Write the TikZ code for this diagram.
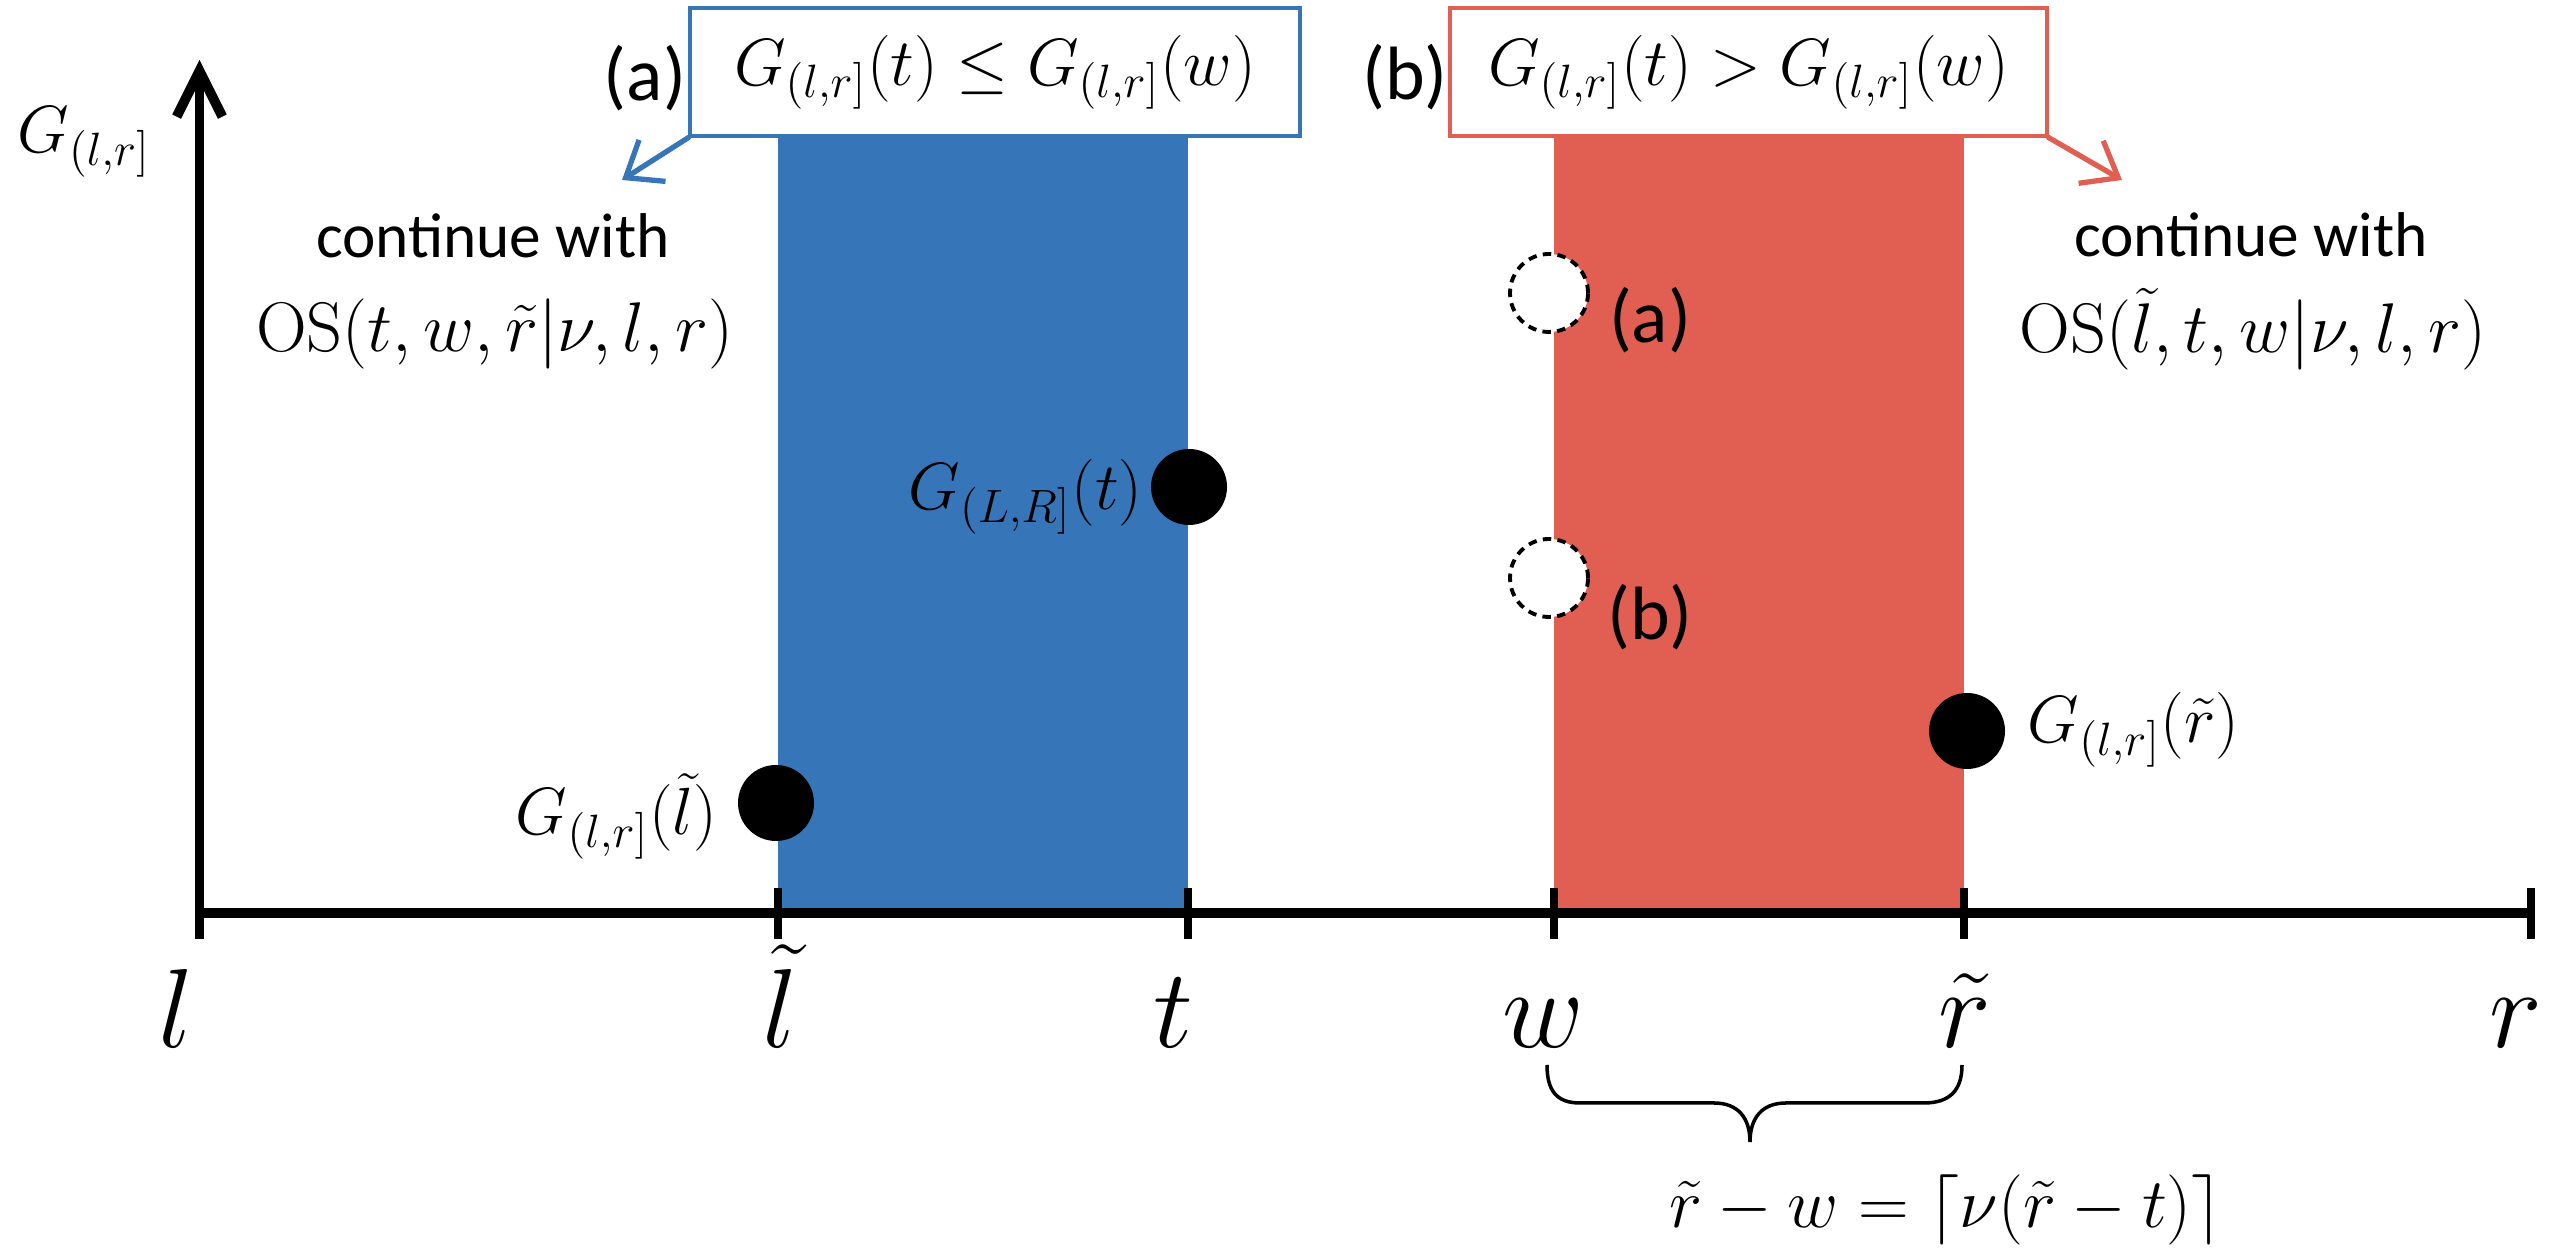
\RequirePackage{fix-cm}
\documentclass[tikz,border=0pt]{standalone}
\usepackage[no-math]{fontspec}
\setmainfont{Carlito}
\usepackage{tikz}
\usetikzlibrary{arrows.meta,positioning}

\definecolor{bleu}{RGB}{54,117,184}
\definecolor{rouge}{RGB}{225,95,82}

\begin{document}
\begin{tikzpicture}[
    axe/.style={line width=2.8pt},
    graduation/.style={line width=2.4pt},
    etiquette/.style={font=\fontsize{32pt}{36pt}\selectfont, anchor=base, inner sep=0pt},
    formule/.style={font=\fontsize{19pt}{22pt}\selectfont, inner sep=0pt},
    grandeformule/.style={font=\fontsize{20pt}{23pt}\selectfont, anchor=base, inner sep=0pt},
    texte/.style={font=\fontsize{18pt}{21pt}\selectfont, anchor=base, inner sep=0pt},
    cas/.style={font=\fontsize{21.5pt}{24pt}\selectfont, inner sep=0pt},
    boite/.style={draw, line width=0.9pt, fill=white, minimum height=1.28cm, inner sep=0pt, font=\fontsize{19pt}{22pt}\selectfont},
    point/.style={circle, fill=black, minimum size=0.76cm, inner sep=0pt},
    pointvide/.style={circle, draw=black, fill=white, dash pattern=on 2.4pt off 1.8pt, line width=1.1pt, minimum size=0.78cm, inner sep=0pt},
    fleche/.style={line width=1.5pt, line cap=round, -{Straight Barb[length=9pt,width=14pt]}}
  ]
\useasboundingbox (0,0) rectangle (25.52,12.48);

\pgfmathsetmacro{\yaxe}{3.35}%
\pgfmathsetmacro{\ybande}{11.12}%
\pgfmathsetmacro{\xl}{1.995}%
\pgfmathsetmacro{\xlt}{7.78}%
\pgfmathsetmacro{\xt}{11.88}%
\pgfmathsetmacro{\xw}{15.54}%
\pgfmathsetmacro{\xrt}{19.64}%
\pgfmathsetmacro{\xr}{25.31}%

    %bandes
    \fill[bleu] (\xlt,\yaxe) rectangle (\xt,\ybande);
    \fill[rouge] (\xw,\yaxe) rectangle (\xrt,\ybande);

    %axes
    \draw[axe] (\xl,\yaxe) -- (\xr,\yaxe);
    \draw[axe, -{Straight Barb[length=13pt,width=13pt]}] (\xl,\yaxe) -- (\xl,11.88);
    \foreach \x in {\xl,\xlt,\xt,\xw,\xrt,\xr}
        \draw[graduation] (\x,3.60) -- (\x,3.09);
    \node[formule, anchor=base] (gy) at (0.84,10.95) {$G_{(l,r]}$};

    \node[etiquette] (el) at (1.76,2.0) {$l$};
    \node[etiquette] (elt) at (7.80,2.0) {$\tilde{l}$};
    \node[etiquette] (et) at (11.73,2.0) {$t$};
    \node[etiquette] (ew) at (15.43,2.0) {$w$};
    \node[etiquette] (ert) at (19.65,2.0) {$\tilde{r}$};
    \node[etiquette] (er) at (25.16,2.0) {$r$};

    %cas (a)
    \node[boite, draw=bleu, minimum width=6.10cm] (boitea) at (9.95,11.76) {$G_{(l,r]}(t) \le G_{(l,r]}(w)$};
    \node[cas] (casa) at (6.45,11.70) {(a)};
    \coordinate (ciblea) at (6.22,10.68);
    \draw[fleche, bleu] (boitea.south west) -- (ciblea);
    \node[texte] (suitea) at (4.93,9.90) {continue with};
    \node[grandeformule] (osa) at (4.95,8.96) {$\mathrm{OS}(t,w,\tilde{r}|\nu,l,r)$};

    %cas (b)
    \node[boite, draw=rouge, minimum width=5.97cm] (boiteb) at (17.485,11.76) {$G_{(l,r]}(t) > G_{(l,r]}(w)$};
    \node[cas] (casb) at (14.05,11.71) {(b)};
    \coordinate (cibleb) at (21.22,10.68);
    \draw[fleche, rouge] (boiteb.south east) -- (cibleb);
    \node[texte] (suiteb) at (22.51,9.91) {continue with};
    \node[grandeformule] (osb) at (22.53,8.95) {$\mathrm{OS}(\tilde{l},t,w|\nu,l,r)$};

    %points
    \node[point] (plt) at (7.76,4.45) {};
    \node[point] (pt) at (11.89,7.61) {};
    \node[point] (prt) at (19.67,5.17) {};
    \node[formule, anchor=base east] (glt) at (7.18,4.13) {$G_{(l,r]}(\tilde{l})$};
    \node[formule, anchor=base east] (gt) at (11.43,7.38) {$G_{(L,R]}(t)$};
    \node[formule, anchor=base west] (grt) at (20.27,5.05) {$G_{(l,r]}(\tilde{r})$};

    %points vides
    \node[pointvide] (pva) at (15.49,9.55) {};
    \node[pointvide] (pvb) at (15.49,6.70) {};
    \node[cas] (lva) at (16.50,9.28) {(a)};
    \node[cas] (lvb) at (16.50,6.31) {(b)};

    %accolade
    \draw[line width=1pt] (15.47,1.83) .. controls (15.47,1.58) and (15.56,1.45) .. (15.80,1.45)
        -- (17.14,1.45) .. controls (17.38,1.45) and (17.50,1.30) .. (17.50,1.06)
        .. controls (17.50,1.30) and (17.62,1.45) .. (17.86,1.45)
        -- (19.24,1.45) .. controls (19.50,1.45) and (19.62,1.58) .. (19.62,1.83);
    \node[grandeformule] (ecart) at (19.46,0.20) {$\tilde{r}-w=\lceil \nu(\tilde{r}-t)\rceil$};

\end{tikzpicture}
\end{document}
